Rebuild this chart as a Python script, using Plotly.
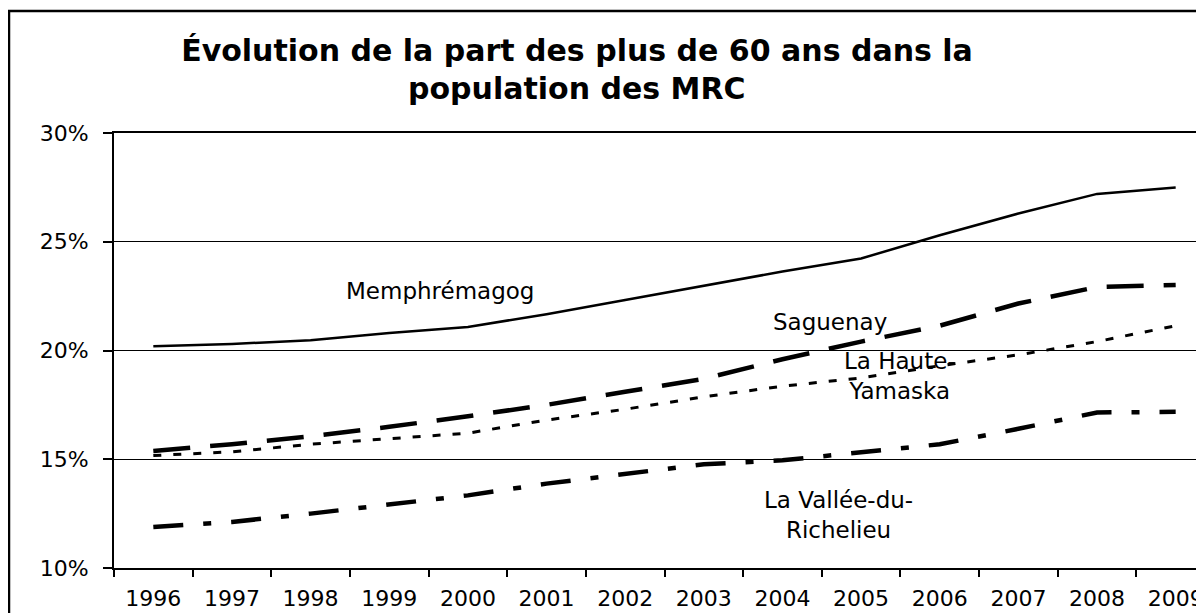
import plotly.graph_objects as go

years = [str(y) for y in range(1996, 2010)]
memphremagog = [20.2, 20.3, 20.47, 20.8, 21.08, 21.67, 22.32, 22.97, 23.63, 24.23, 25.3, 26.3, 27.2, 27.5]
saguenay = [15.38, 15.69, 16.06, 16.49, 16.98, 17.5, 18.1, 18.7, 19.6, 20.41, 21.14, 22.16, 22.92, 23.01]
haute_yamaska = [15.17, 15.34, 15.69, 15.94, 16.2, 16.8, 17.3, 17.87, 18.36, 18.74, 19.3, 19.8, 20.41, 21.14]
vallee_richelieu = [11.89, 12.12, 12.5, 12.9, 13.34, 13.88, 14.3, 14.77, 14.95, 15.34, 15.69, 16.4, 17.15, 17.18]
y_ticks = [10, 15, 20, 25, 30]
y_tick_text = ["10%", "15%", "20%", "25%", "30%"]
title_line1 = "Évolution de la part des plus de 60 ans dans la"
title_line2 = "population des MRC"

FONT = "DejaVu Sans"
# the page body adds an 8px offset; figure coordinates are shifted accordingly
W, H = 1207, 613
L, T = 106, 125
PLOT_BOTTOM = 560
B = H - PLOT_BOTTOM
plot_w = W - L
plot_h = PLOT_BOTTOM - T

fig = go.Figure()
fig.add_trace(go.Scatter(x=years, y=memphremagog, mode="lines", name="Memphrémagog",
                         line=dict(color="black", width=2.5)))
fig.add_trace(go.Scatter(x=years, y=saguenay, mode="lines", name="Saguenay",
                         line=dict(color="black", width=4.5, dash="37px,20px")))
fig.add_trace(go.Scatter(x=years, y=haute_yamaska, mode="lines", name="La Haute-Yamaska",
                         line=dict(color="black", width=3, dash="8px,12px")))
fig.add_trace(go.Scatter(x=years, y=vallee_richelieu, mode="lines", name="La Vallée-du-Richelieu",
                         line=dict(color="black", width=4.5, dash="30px,20px,8px,20px")))

labels = [
    ("Memphrémagog", 3.65, 22.73),
    ("Saguenay", 8.61, 21.3),
    ("La Haute-<br>Yamaska", 9.5, 18.82),
    ("La Vallée-du-<br>Richelieu", 8.71, 12.42),
]
for txt, xi, yv in labels:
    fig.add_annotation(x=xi, y=yv, xref="x", yref="y", text=txt, showarrow=False,
                       font=dict(family=FONT, size=23, color="black"))

# second title line
fig.add_annotation(x=(569 - L) / plot_w, y=(PLOT_BOTTOM - 80) / plot_h,
                   xref="paper", yref="paper",
                   text="<b>" + title_line2 + "</b>", showarrow=False,
                   xanchor="center", yanchor="middle",
                   font=dict(family=FONT, size=30, color="black"))

# outer chart frame
fig.add_shape(type="rect", xref="paper", yref="paper",
              x0=(1 - L) / plot_w, x1=1.2, y0=-0.3, y1=(PLOT_BOTTOM - 3) / plot_h,
              line=dict(color="black", width=2.5), layer="above")

fig.update_layout(
    width=W, height=H,
    margin=dict(l=L, r=0, t=T, b=B, autoexpand=False),
    paper_bgcolor="white", plot_bgcolor="white",
    showlegend=False,
    title=dict(text="<b>" + title_line1 + "</b>",
               x=569 / W, xanchor="center", xref="container",
               y=1 - 42 / H, yanchor="middle", yref="container",
               font=dict(family=FONT, size=30, color="black")),
    xaxis=dict(type="category", range=[-0.5, 13.5], tickson="boundaries",
               ticks="outside", ticklen=7, tickcolor="black", tickwidth=1.5,
               showline=True, linecolor="black", linewidth=1.5, mirror=True,
               showgrid=False, automargin=False, ticklabelstandoff=10,
               tickfont=dict(family=FONT, size=22, color="black")),
    yaxis=dict(range=[10, 30], tickmode="array", tickvals=y_ticks, ticktext=y_tick_text,
               ticks="outside", ticklen=9, tickcolor="black", tickwidth=1.5,
               showline=True, linecolor="black", linewidth=2,
               showgrid=True, gridcolor="black", gridwidth=1,
               zeroline=False, automargin=False, ticklabelstandoff=10,
               tickfont=dict(family=FONT, size=22, color="black")),
)

fig.write_html("out.html")
